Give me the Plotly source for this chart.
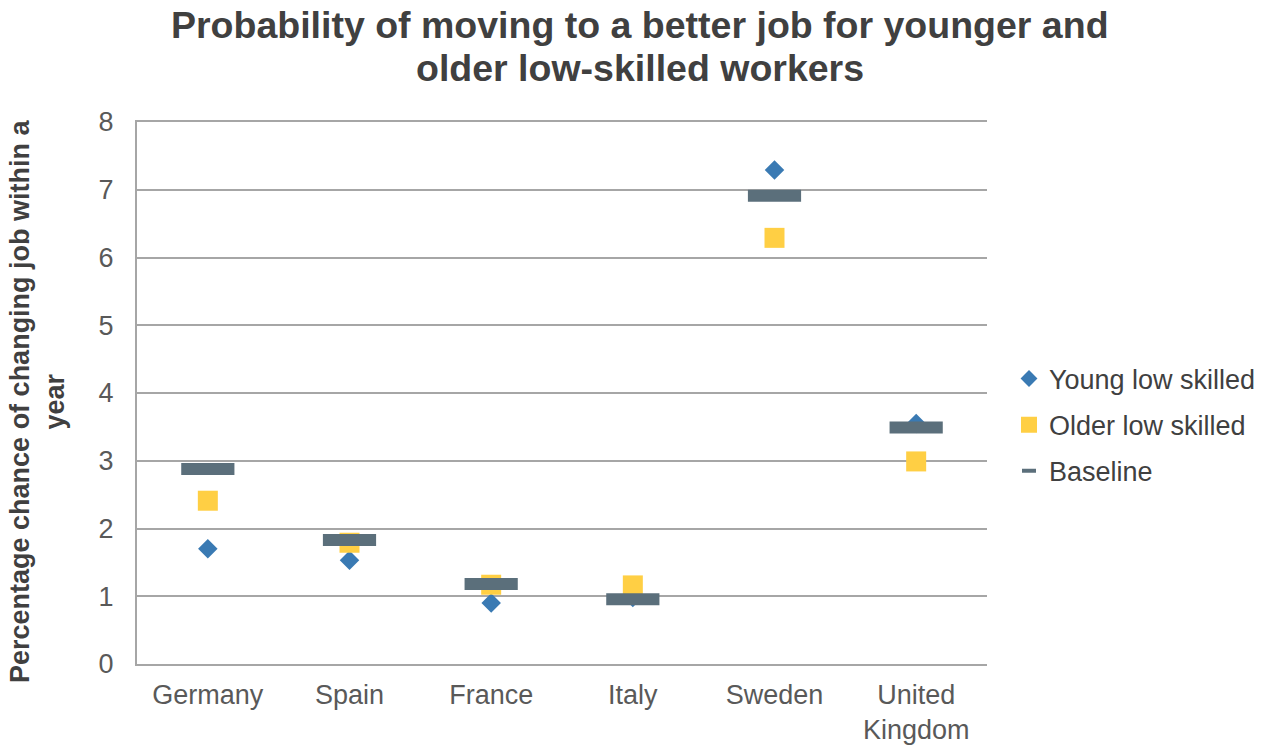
import plotly.graph_objects as go

countries = ["Germany", "Spain", "France", "Italy", "Sweden", "United<br>Kingdom"]
young = [1.70, 1.53, 0.90, 0.98, 7.29, 3.55]
older = [2.41, 1.79, 1.17, 1.16, 6.29, 2.99]
baseline = [2.88, 1.83, 1.18, 0.955, 6.91, 3.49]

C_YOUNG = "#3A7AB3"
C_OLD = "#FFCF44"
C_BASE = "#5B6F7B"
GRID = "#A6A6A6"
FONT = "Liberation Sans, Arial, sans-serif"

fig = go.Figure()
fig.add_trace(go.Scatter(x=countries, y=young, mode="markers", name="Young low skilled",
                         marker=dict(symbol="diamond", size=15, color=C_YOUNG), showlegend=False))
fig.add_trace(go.Scatter(x=countries, y=older, mode="markers", name="Older low skilled",
                         marker=dict(symbol="square", size=20, color=C_OLD), showlegend=False))
fig.add_trace(go.Scatter(x=countries, y=baseline, mode="markers", name="Baseline",
                         marker=dict(symbol="line-ew", size=38, line=dict(width=12, color=C_BASE)),
                         showlegend=False))
# legend entries
fig.add_trace(go.Scatter(x=[None], y=[None], mode="markers", name="Young low skilled", legendgroup="a",
                         marker=dict(symbol="diamond", size=13, color=C_YOUNG)))
fig.add_trace(go.Scatter(x=[None], y=[None], mode="markers", name="Older low skilled", legendgroup="b",
                         marker=dict(symbol="square", size=16, color=C_OLD)))
fig.add_trace(go.Scatter(x=[None], y=[None], mode="markers", name="Baseline", legendgroup="c",
                         marker=dict(symbol="line-ew", size=10, line=dict(width=4, color=C_BASE))))

PLOT_TOP, PLOT_BOT, PLOT_L, PLOT_R = 122, 664, 137, 987
H = PLOT_BOT - PLOT_TOP
W = PLOT_R - PLOT_L

def py(p):
    return (PLOT_BOT - p) / H

def px(p):
    return (p - PLOT_L) / W

title_font = dict(family=FONT, size=37.5, color="#404040")
fig.add_annotation(text="<b>Probability of moving to a better job for younger and</b>",
                   xref="paper", yref="paper", x=px(640), y=py(25), xanchor="center", yanchor="middle",
                   showarrow=False, font=title_font)
fig.add_annotation(text="<b>older low-skilled workers</b>",
                   xref="paper", yref="paper", x=px(640), y=py(68), xanchor="center", yanchor="middle",
                   showarrow=False, font=title_font)
fig.add_annotation(text="<b>Percentage chance of changing job within a<br>year</b>",
                   xref="paper", yref="paper", x=px(37), y=py(401), xanchor="center", yanchor="middle",
                   textangle=-90, showarrow=False,
                   font=dict(family=FONT, size=27, color="#404040"))

fig.update_layout(
    width=1269, height=745,
    margin=dict(l=PLOT_L, r=1269 - PLOT_R, t=PLOT_TOP, b=745 - PLOT_BOT, autoexpand=False),
    paper_bgcolor="white", plot_bgcolor="white",
    font=dict(family=FONT, size=27, color="#595959"),
    xaxis=dict(range=[-0.5, 5.5], showgrid=False, showline=True, mirror=True, linecolor=GRID,
               linewidth=1.5, ticks="", zeroline=False, ticklabelstandoff=6, automargin=False,
               tickfont=dict(size=27, color="#595959")),
    yaxis=dict(range=[0, 8], dtick=1, showgrid=True, gridcolor=GRID, gridwidth=1.5,
               showline=True, linecolor=GRID, linewidth=2, zeroline=False, ticks="", automargin=False,
               ticklabelstandoff=16, tickfont=dict(size=27, color="#595959")),
    legend=dict(x=px(1009), xanchor="left", y=py(425), yanchor="middle",
                font=dict(size=27, color="#404040"), itemwidth=30, tracegroupgap=8,
                bgcolor="rgba(0,0,0,0)"),
)

fig.write_html("out.html")
